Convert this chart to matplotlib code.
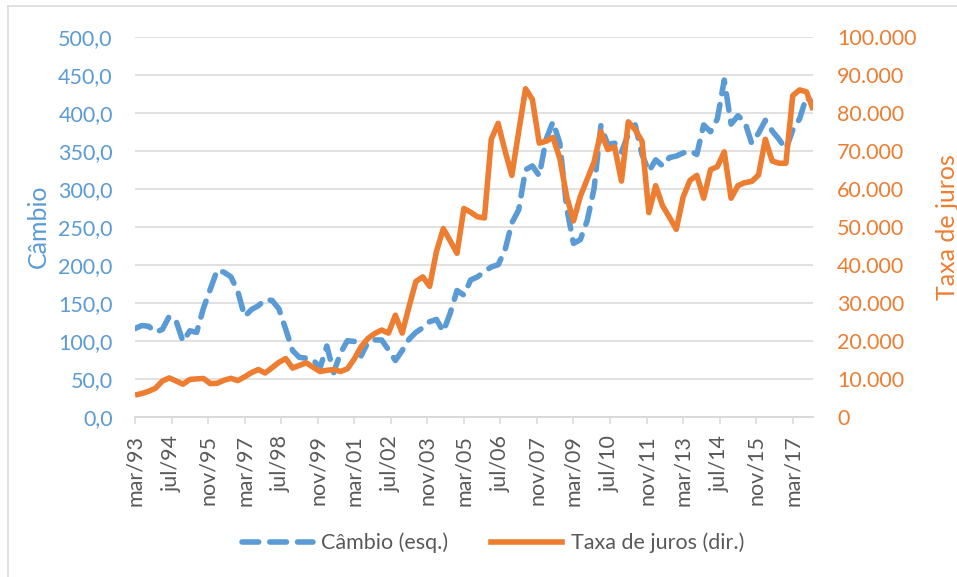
import numpy as np
import matplotlib.pyplot as plt
from matplotlib.ticker import FuncFormatter
from matplotlib.lines import Line2D

plt.rcParams['font.family'] = ['Lato', 'DejaVu Sans']

# quarterly observations, first one in mar/93
cambio = [116, 120, 119, 111, 115, 132, 126, 99, 113, 111,
          143, 168, 193, 190, 184, 165, 132, 141, 146, 154,
          153, 142, 115, 87, 78, 77, 75, 64, 93, 58,
          84, 100, 99, 80, 98, 101, 101, 88, 74, 87,
          102, 111, 117, 125, 128, 112, 136, 166, 160, 180,
          184, 191, 197, 200, 219, 255, 272, 325, 330, 317,
          365, 388, 360, 275, 228, 233, 258, 300, 383, 358,
          360, 348, 372, 384, 345, 323, 338, 330, 341, 343,
          347, 350, 345, 384, 375, 392, 443, 385, 396, 388,
          360, 373, 390, 376, 365, 352, 377, 392, 421, 412]

juros = [5700, 6100, 6700, 7500, 9400, 10200, 9400, 8550, 9800, 9950,
         10050, 8700, 8800, 9600, 10100, 9500, 10500, 11600, 12400, 11500,
         12900, 14300, 15300, 12800, 13500, 14200, 13000, 11900, 12200, 12400,
         11900, 12600, 15200, 18400, 20600, 21900, 22800, 22000, 26700, 22000,
         29000, 35600, 36800, 34300, 43500, 49500, 46300, 43000, 54800, 53800,
         52600, 52300, 73000, 77200, 70000, 63500, 75000, 86300, 83500, 72000,
         72500, 73500, 68000, 58000, 51500, 58000, 62500, 67000, 75000, 70300,
         71000, 62000, 77600, 75500, 72500, 53700, 60800, 55500, 52500, 49300,
         57800, 62200, 63500, 57500, 65000, 65800, 69700, 57500, 60800, 61600,
         61900, 63600, 73000, 67300, 66700, 66700, 84500, 86000, 85500, 80700]

rotulos = ['mar/93', 'jul/94', 'nov/95', 'mar/97', 'jul/98', 'nov/99',
           'mar/01', 'jul/02', 'nov/03', 'mar/05', 'jul/06', 'nov/07',
           'mar/09', 'jul/10', 'nov/11', 'mar/13', 'jul/14', 'nov/15', 'mar/17']

meses = np.arange(len(cambio)) * 3          # months since mar/93
pos_rotulos = np.arange(len(rotulos)) * 16

azul = '#5B9BD5'
laranja = '#ED7D31'
cinza = '#595959'
grade = '#D9D9D9'
fs = 15.5

fig = plt.figure(figsize=(9.57, 5.77), dpi=100)
ax = fig.add_axes([135 / 957, 1 - 416.7 / 577, (813.3 - 135) / 957, 380 / 577])
ax2 = ax.twinx()

ax.plot(meses, cambio, color=azul, lw=4, dashes=(3.0, 2.0),
        dash_capstyle='round', dash_joinstyle='round')
ax2.plot(meses, juros, color=laranja, lw=4, solid_joinstyle='round',
         solid_capstyle='butt')

ax.set_xlim(0, meses[-1])
ax.set_ylim(0, 500)
ax2.set_ylim(0, 100000)
ax.set_yticks(np.arange(0, 501, 50))
ax2.set_yticks(np.arange(0, 100001, 10000))
ax.yaxis.set_major_formatter(FuncFormatter(lambda v, p: f'{v:.1f}'.replace('.', ',')))
ax2.yaxis.set_major_formatter(FuncFormatter(lambda v, p: f'{int(v):,}'.replace(',', '.')))

ax.set_xticks(pos_rotulos)
ax.set_xticklabels(rotulos, rotation=90, color=cinza, fontsize=fs)

ax.grid(axis='y', color=grade, lw=1.1)
ax.set_axisbelow(True)
for a in (ax, ax2):
    for s in ('top', 'left', 'right'):
        a.spines[s].set_visible(False)
    a.spines['bottom'].set_color(grade)
    a.spines['bottom'].set_linewidth(1.1)

ax.tick_params(axis='y', length=0, pad=16, labelcolor=azul, labelsize=fs)
ax2.tick_params(axis='y', length=0, pad=17, labelcolor=laranja, labelsize=fs)
ax.tick_params(axis='x', length=5, width=1.1, color=grade, pad=8)

ax.set_ylabel('Câmbio', color=azul, fontsize=18, labelpad=6)
ax2.set_ylabel('Taxa de juros', color=laranja, fontsize=18, labelpad=14)

handles = [Line2D([], [], color=azul, lw=4, dashes=(3.0, 2.0), dash_capstyle='round'),
           Line2D([], [], color=laranja, lw=4)]
fig.legend(handles, ['Câmbio (esq.)', 'Taxa de juros (dir.)'], loc='center',
           bbox_to_anchor=(493 / 957, 1 - 543 / 577), ncol=2, frameon=False,
           fontsize=fs, labelcolor=cinza, handlelength=3.3, handletextpad=0.4,
           columnspacing=2.0)

# chart border (only top and left edges are inside the picture)
fig.add_artist(Line2D([8 / 957, 1], [1 - 6 / 577, 1 - 6 / 577], color=grade, lw=1.1))
fig.add_artist(Line2D([8 / 957, 8 / 957], [0, 1 - 6 / 577], color=grade, lw=1.1))

fig.savefig('out.png', dpi=100)
